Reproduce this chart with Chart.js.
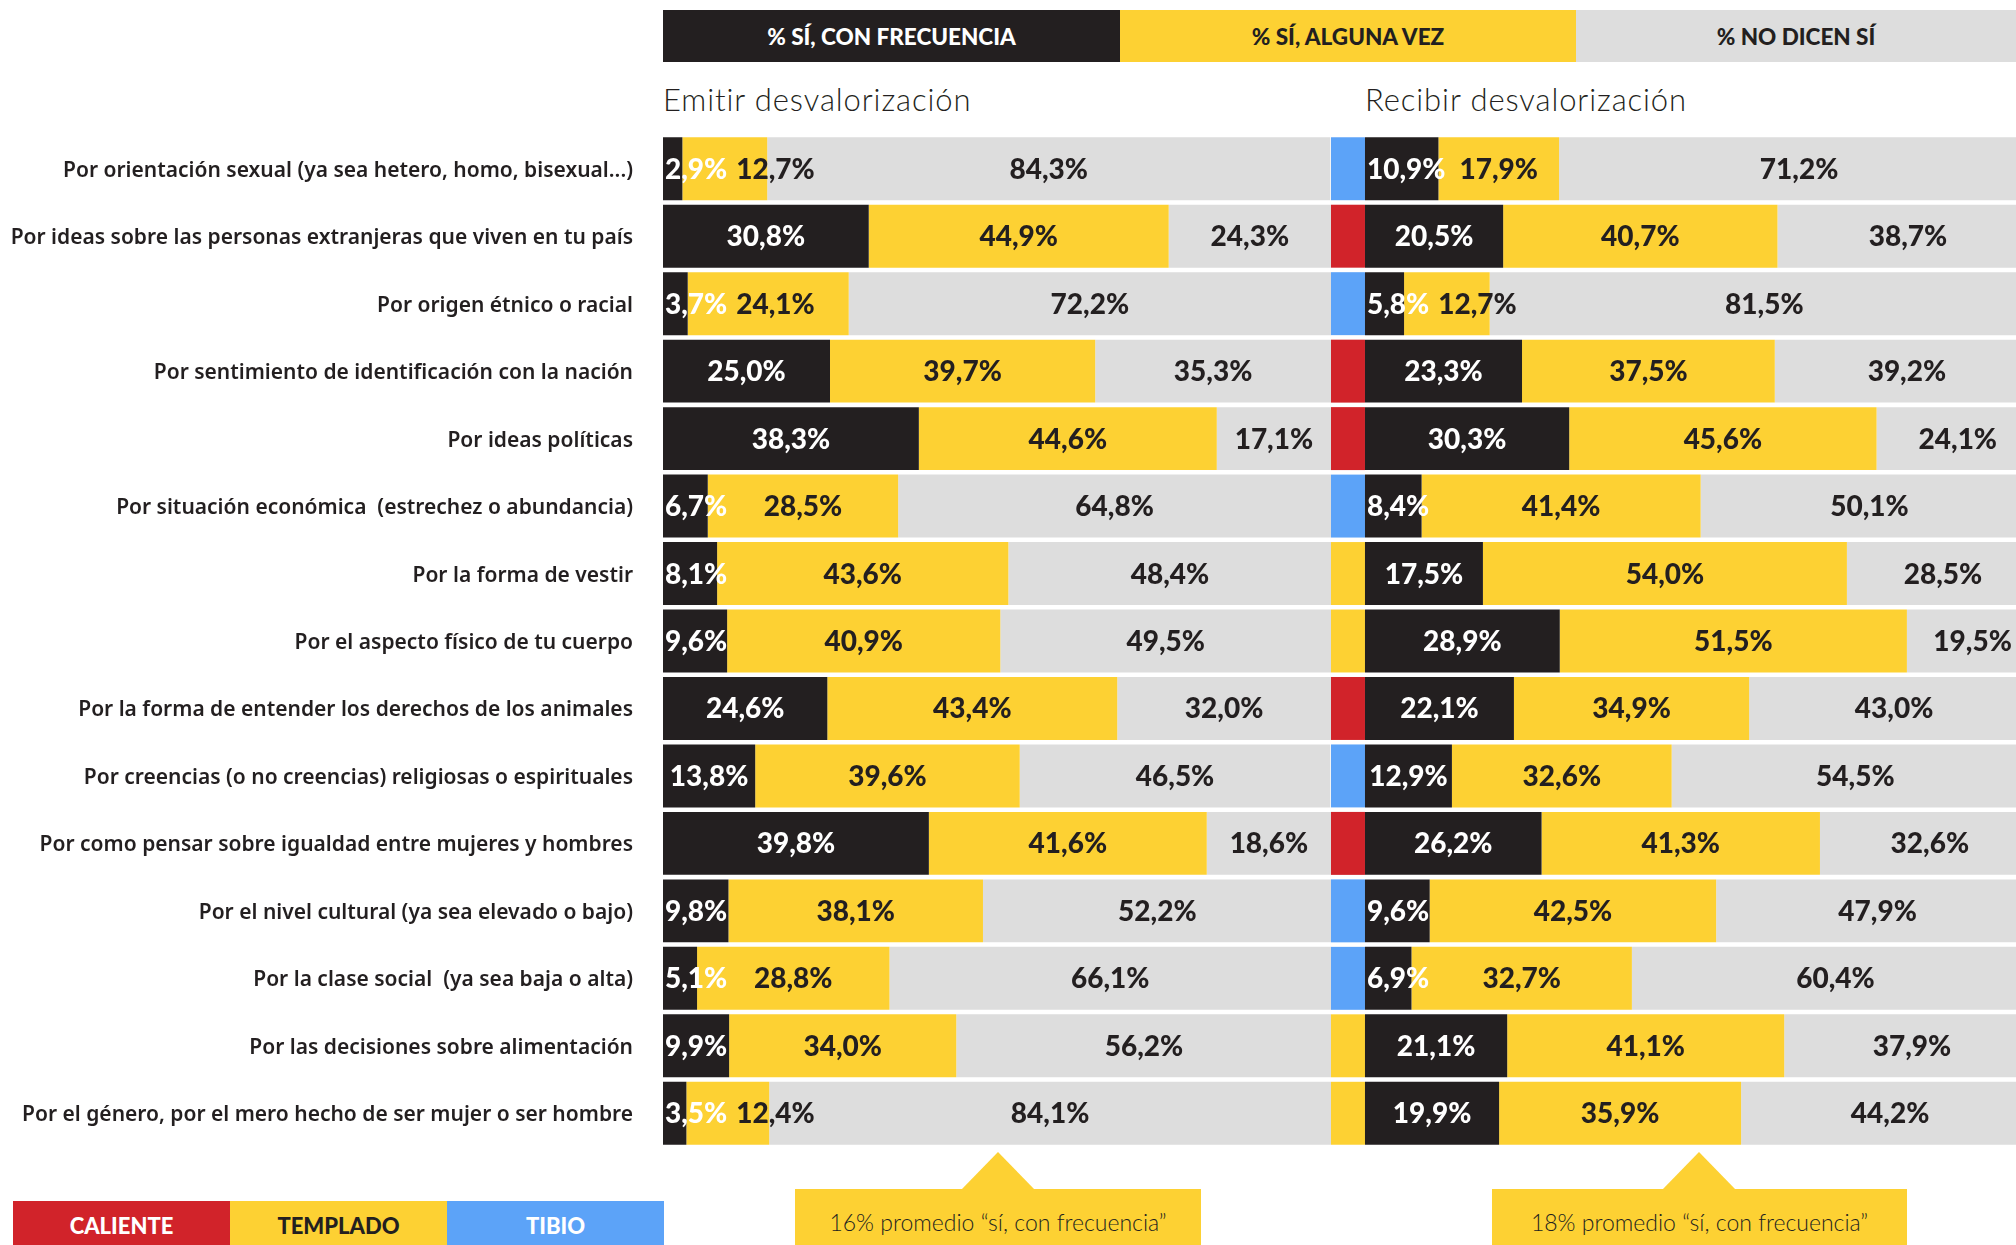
<!DOCTYPE html>
<html lang="es">
<head>
<meta charset="utf-8">
<title>Desvalorización</title>
<script src="https://cdn.jsdelivr.net/npm/chart.js@4.4.1/dist/chart.umd.min.js"></script>
<style>
  body { margin: 0; width: 2016px; height: 1245px; overflow: hidden; background: #fff;
    position: relative; font-family: Lato, "Noto Sans", sans-serif; color: #231f20; }
  .abs { position: absolute; }
  .hdr { top: 10px; height: 52px; display: flex; align-items: center; justify-content: center;
    font-weight: 900; font-size: 22.5px; }
  .titulo { top: 80px; font-size: 31px; font-weight: 300; letter-spacing: 0.9px; }
  .leg { top: 1201px; height: 44px; padding-top: 4px; box-sizing: border-box; display: flex;
    align-items: center; justify-content: center; font-weight: 900; font-size: 22px; }
  .caja { top: 1189px; height: 60px; background: #fdd133; display: flex; justify-content: center;
    padding-top: 19px; box-sizing: border-box; font-size: 23px; font-weight: 300; }
  .pico { top: 1152px; width: 74px; height: 38px; background: #fdd133;
    clip-path: polygon(50% 0, 100% 100%, 0 100%); }
</style>
</head>
<body>
<div id="cabecera"></div>
<div class="abs titulo" style="left:663px">Emitir desvalorización</div>
<div class="abs titulo" style="left:1365px">Recibir desvalorización</div>
<div class="abs" style="left:0;top:135px;width:1331px;height:1012px"><canvas id="chart-emitir"></canvas></div>
<div class="abs" style="left:1331px;top:135px;width:708px;height:1012px"><canvas id="chart-recibir"></canvas></div>
<div id="leyenda"></div>
<div class="abs pico" style="left:961px"></div>
<div class="abs caja" id="nota-emitir" style="left:795px;width:406px"></div>
<div class="abs pico" style="left:1662px"></div>
<div class="abs caja" id="nota-recibir" style="left:1492px;width:415px"></div>

<script>
const categorias = [
  "Por orientación sexual (ya sea hetero, homo, bisexual...)",
  "Por ideas sobre las personas extranjeras que viven en tu país",
  "Por origen étnico o racial",
  "Por sentimiento de identificación con la nación",
  "Por ideas políticas",
  "Por situación económica  (estrechez o abundancia)",
  "Por la forma de vestir",
  "Por el aspecto físico de tu cuerpo",
  "Por la forma de entender los derechos de los animales",
  "Por creencias (o no creencias) religiosas o espirituales",
  "Por como pensar sobre igualdad entre mujeres y hombres",
  "Por el nivel cultural (ya sea elevado o bajo)",
  "Por la clase social  (ya sea baja o alta)",
  "Por las decisiones sobre alimentación",
  "Por el género, por el mero hecho de ser mujer o ser hombre",
];
const series = ["% SÍ, CON FRECUENCIA", "% SÍ, ALGUNA VEZ", "% NO DICEN SÍ"];

const emitirFrecuencia = [2.9, 30.8, 3.7, 25.0, 38.3, 6.7, 8.1, 9.6, 24.6, 13.8, 39.8, 9.8, 5.1, 9.9, 3.5];
const emitirAlgunaVez = [12.7, 44.9, 24.1, 39.7, 44.6, 28.5, 43.6, 40.9, 43.4, 39.6, 41.6, 38.1, 28.8, 34.0, 12.4];
const emitirNoDicen = [84.3, 24.3, 72.2, 35.3, 17.1, 64.8, 48.4, 49.5, 32.0, 46.5, 18.6, 52.2, 66.1, 56.2, 84.1];

const recibirFrecuencia = [10.9, 20.5, 5.8, 23.3, 30.3, 8.4, 17.5, 28.9, 22.1, 12.9, 26.2, 9.6, 6.9, 21.1, 19.9];
const recibirAlgunaVez = [17.9, 40.7, 12.7, 37.5, 45.6, 41.4, 54.0, 51.5, 34.9, 32.6, 41.3, 42.5, 32.7, 41.1, 35.9];
const recibirNoDicen = [71.2, 38.7, 81.5, 39.2, 24.1, 50.1, 28.5, 19.5, 43.0, 54.5, 32.6, 47.9, 60.4, 37.9, 44.2];
const recibirTemperatura = ["tibio", "caliente", "tibio", "caliente", "caliente", "tibio", "templado", "templado",
  "caliente", "tibio", "caliente", "tibio", "tibio", "templado", "templado"];

const temperaturas = ["caliente", "templado", "tibio"];
const temperaturaEtiquetas = ["CALIENTE", "TEMPLADO", "TIBIO"];
const promedioEmitir = 16;
const promedioRecibir = 18;

const NEGRO = "#231f20";
const AMARILLO = "#fdd133";
const GRIS = "#dddddd";
const colorTemp = {caliente: "#d1232a", templado: AMARILLO, tibio: "#5ca3f8"};
const textoTemp = {caliente: "#fff", templado: NEGRO, tibio: "#fff"};

const fmt = (v) => v.toFixed(1).replace(".", ",") + "%";

// cabecera de series y leyenda de temperatura
const cab = document.getElementById("cabecera");
[[663, 1120, NEGRO, "#fff"], [1120, 1576, AMARILLO, NEGRO], [1576, 2016, GRIS, NEGRO]].forEach((c, i) => {
  const d = document.createElement("div");
  d.className = "abs hdr";
  d.style.cssText = `left:${c[0]}px;width:${c[1] - c[0]}px;background:${c[2]};color:${c[3]}`;
  d.textContent = series[i];
  cab.appendChild(d);
});
const ley = document.getElementById("leyenda");
temperaturas.forEach((t, i) => {
  const d = document.createElement("div");
  d.className = "abs leg";
  d.style.cssText = `left:${13 + i * 217}px;width:217px;background:${colorTemp[t]};color:${textoTemp[t]}`;
  d.textContent = temperaturaEtiquetas[i];
  ley.appendChild(d);
});
document.getElementById("nota-emitir").textContent = `${promedioEmitir}% promedio “sí, con frecuencia”`;
document.getElementById("nota-recibir").textContent = `${promedioRecibir}% promedio “sí, con frecuencia”`;

// etiquetas de valor dentro de las barras
const etiquetas = {
  id: "etiquetas",
  afterDatasetsDraw(chart) {
    const ctx = chart.ctx;
    ctx.save();
    ctx.font = "900 28px Lato";
    ctx.textBaseline = "middle";
    ctx.textAlign = "left";
    const n = chart.data.labels.length;
    for (let i = 0; i < n; i++) {
      let fin = -Infinity;
      chart.data.datasets.forEach((ds, d) => {
        const el = chart.getDatasetMeta(d).data[i];
        const txt = fmt(ds.data[i]);
        const w = ctx.measureText(txt).width;
        const izq = Math.min(el.base, el.x);
        const der = Math.max(el.base, el.x);
        let x0 = (d === 0 && w + 4 > der - izq) ? izq + 2 : (izq + der) / 2 - w / 2;
        if (x0 < fin + 9) x0 = fin + 9;
        ctx.fillStyle = d === 0 ? "#fff" : NEGRO;
        ctx.fillText(txt, x0, el.y + 1);
        fin = x0 + w;
      });
    }
    ctx.restore();
  },
};

// tira de temperatura a la izquierda de "recibir"
const tira = {
  id: "tira",
  beforeDatasetsDraw(chart) {
    const ctx = chart.ctx;
    const xs = chart.scales.x;
    const meta = chart.getDatasetMeta(0);
    meta.data.forEach((el, i) => {
      ctx.fillStyle = colorTemp[recibirTemperatura[i]];
      ctx.fillRect(xs.getPixelForValue(xs.min), el.y - el.height / 2,
          xs.getPixelForValue(0) - xs.getPixelForValue(xs.min), el.height);
    });
  },
};

function crear(id, frec, alguna, no, conEjeY, xMin, plugins) {
  return new Chart(document.getElementById(id), {
    type: "bar",
    data: {
      labels: categorias,
      datasets: [
        {label: series[0], data: frec, backgroundColor: NEGRO},
        {label: series[1], data: alguna, backgroundColor: AMARILLO},
        {label: series[2], data: no, backgroundColor: GRIS},
      ],
    },
    options: {
      indexAxis: "y",
      responsive: true,
      maintainAspectRatio: false,
      animation: false,
      layout: {padding: 0, autoPadding: false},
      datasets: {bar: {barPercentage: 0.933, categoryPercentage: 1, borderWidth: 0}},
      plugins: {legend: {display: false}, tooltip: {enabled: false}},
      scales: {
        x: {stacked: true, display: false, min: xMin, max: 100},
        y: {
          stacked: true,
          display: conEjeY,
          grid: {display: false, drawTicks: false},
          border: {display: false},
          ticks: {padding: 30, labelOffset: 2, color: NEGRO, font: {family: "Noto Sans", size: 21, weight: "600"}},
          afterFit: (s) => {
            if (!conEjeY) return;
            s.width = 663;
            s.paddingTop = 0;
            s.paddingBottom = 0;
          },
        },
      },
    },
    plugins: plugins,
  });
}

crear("chart-emitir", emitirFrecuencia, emitirAlgunaVez, emitirNoDicen, true, 0, [etiquetas]);
crear("chart-recibir", recibirFrecuencia, recibirAlgunaVez, recibirNoDicen, false, -5.04, [tira, etiquetas]);
</script>
</body>
</html>
